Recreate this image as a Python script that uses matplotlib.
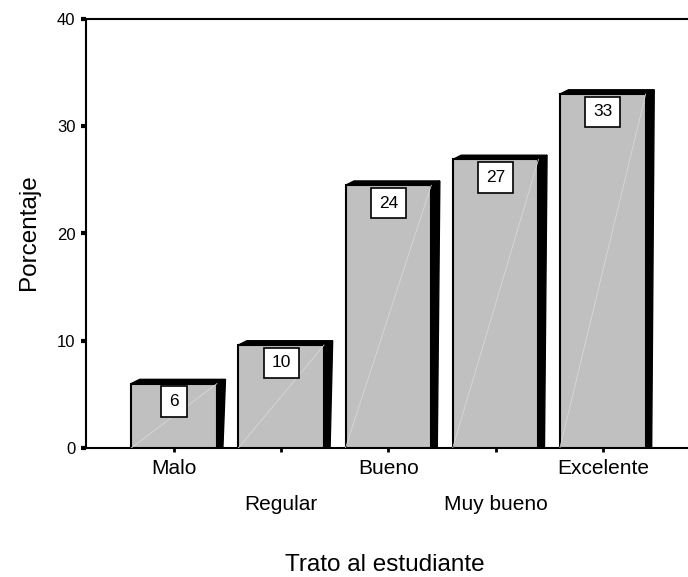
import matplotlib.pyplot as plt
from matplotlib.patches import Polygon, Rectangle

plt.rcParams['font.family'] = ['Liberation Sans', 'DejaVu Sans']

# Data
categories = ["Malo", "Regular", "Bueno", "Muy bueno", "Excelente"]
percent = [6.0, 9.6, 24.5, 26.9, 33.0]
bar_labels = ["6", "10", "24", "27", "33"]

########## Style settings ##########
bar_width = 0.80		# width of front face [category units]
depth_x = 0.080			# 3D depth, horizontal [category units]
depth_y = 0.40			# 3D depth, vertical [percent]
face_color = "#c0c0c0"

fig = plt.figure(figsize=(6.88, 5.77), dpi=100)
ax = fig.add_axes([86/688, 129/577, 1 - 86/688, (448-19)/577])

########## Draw the pseudo-3D bars ##########
for i, h in enumerate(percent):
	x0 = i - bar_width/2
	x1 = i + bar_width/2

	# black side face, narrows a little towards the floor
	side = Polygon([(x1, 0), (x1, h), (x1 + depth_x, h + depth_y), (x1 + depth_x*0.7, 0)],
				   closed=True, facecolor="black", edgecolor="black", lw=1, zorder=2)
	ax.add_patch(side)

	# black top face
	top = Polygon([(x0, h), (x0 + depth_x, h + depth_y), (x1 + depth_x, h + depth_y), (x1, h)],
				  closed=True, facecolor="black", edgecolor="black", lw=1, zorder=2)
	ax.add_patch(top)

	# grey front face
	front = Rectangle((x0, 0), bar_width, h, facecolor=face_color,
					  edgecolor="black", lw=1.5, zorder=3)
	ax.add_patch(front)

	# faint diagonal highlight
	ax.plot([x0, x1], [0, h], color="#d8d8d8", lw=0.6, zorder=3.5)

	# value box
	ax.annotate(bar_labels[i], xy=(i, h), xytext=(0, -7.5), textcoords="offset points",
				ha="center", va="top", fontsize=12.5, zorder=4,
				bbox=dict(boxstyle="square,pad=0.45", facecolor="white",
						  edgecolor="black", lw=1.2))

########## Axes ##########
ax.set_xlim(-0.821, 4.795)
ax.set_ylim(0, 40)

ax.spines["right"].set_visible(False)
for s in ["left", "top", "bottom"]:
	ax.spines[s].set_linewidth(1.5)

ax.set_yticks([0, 10, 20, 30, 40])
ax.tick_params(axis="y", direction="out", length=3.5, width=3, labelsize=12, pad=4)

ax.set_xticks([0, 2, 4], labels=[categories[0], categories[2], categories[4]])
ax.set_xticks([1, 3], labels=[categories[1], categories[3]], minor=True)
ax.tick_params(axis="x", which="major", direction="out", length=3, width=2, labelsize=15, pad=5)
ax.tick_params(axis="x", which="minor", direction="out", length=3, width=2, labelsize=15, pad=31)

fig.text(385/688, 1/577, "Trato al estudiante", ha="center", va="bottom", fontsize=17.5)
fig.text(40/688, (577-232.5)/577, "Porcentaje", ha="right", va="center",
		 rotation=90, fontsize=17.5)

fig.savefig("out.png", dpi=100)
